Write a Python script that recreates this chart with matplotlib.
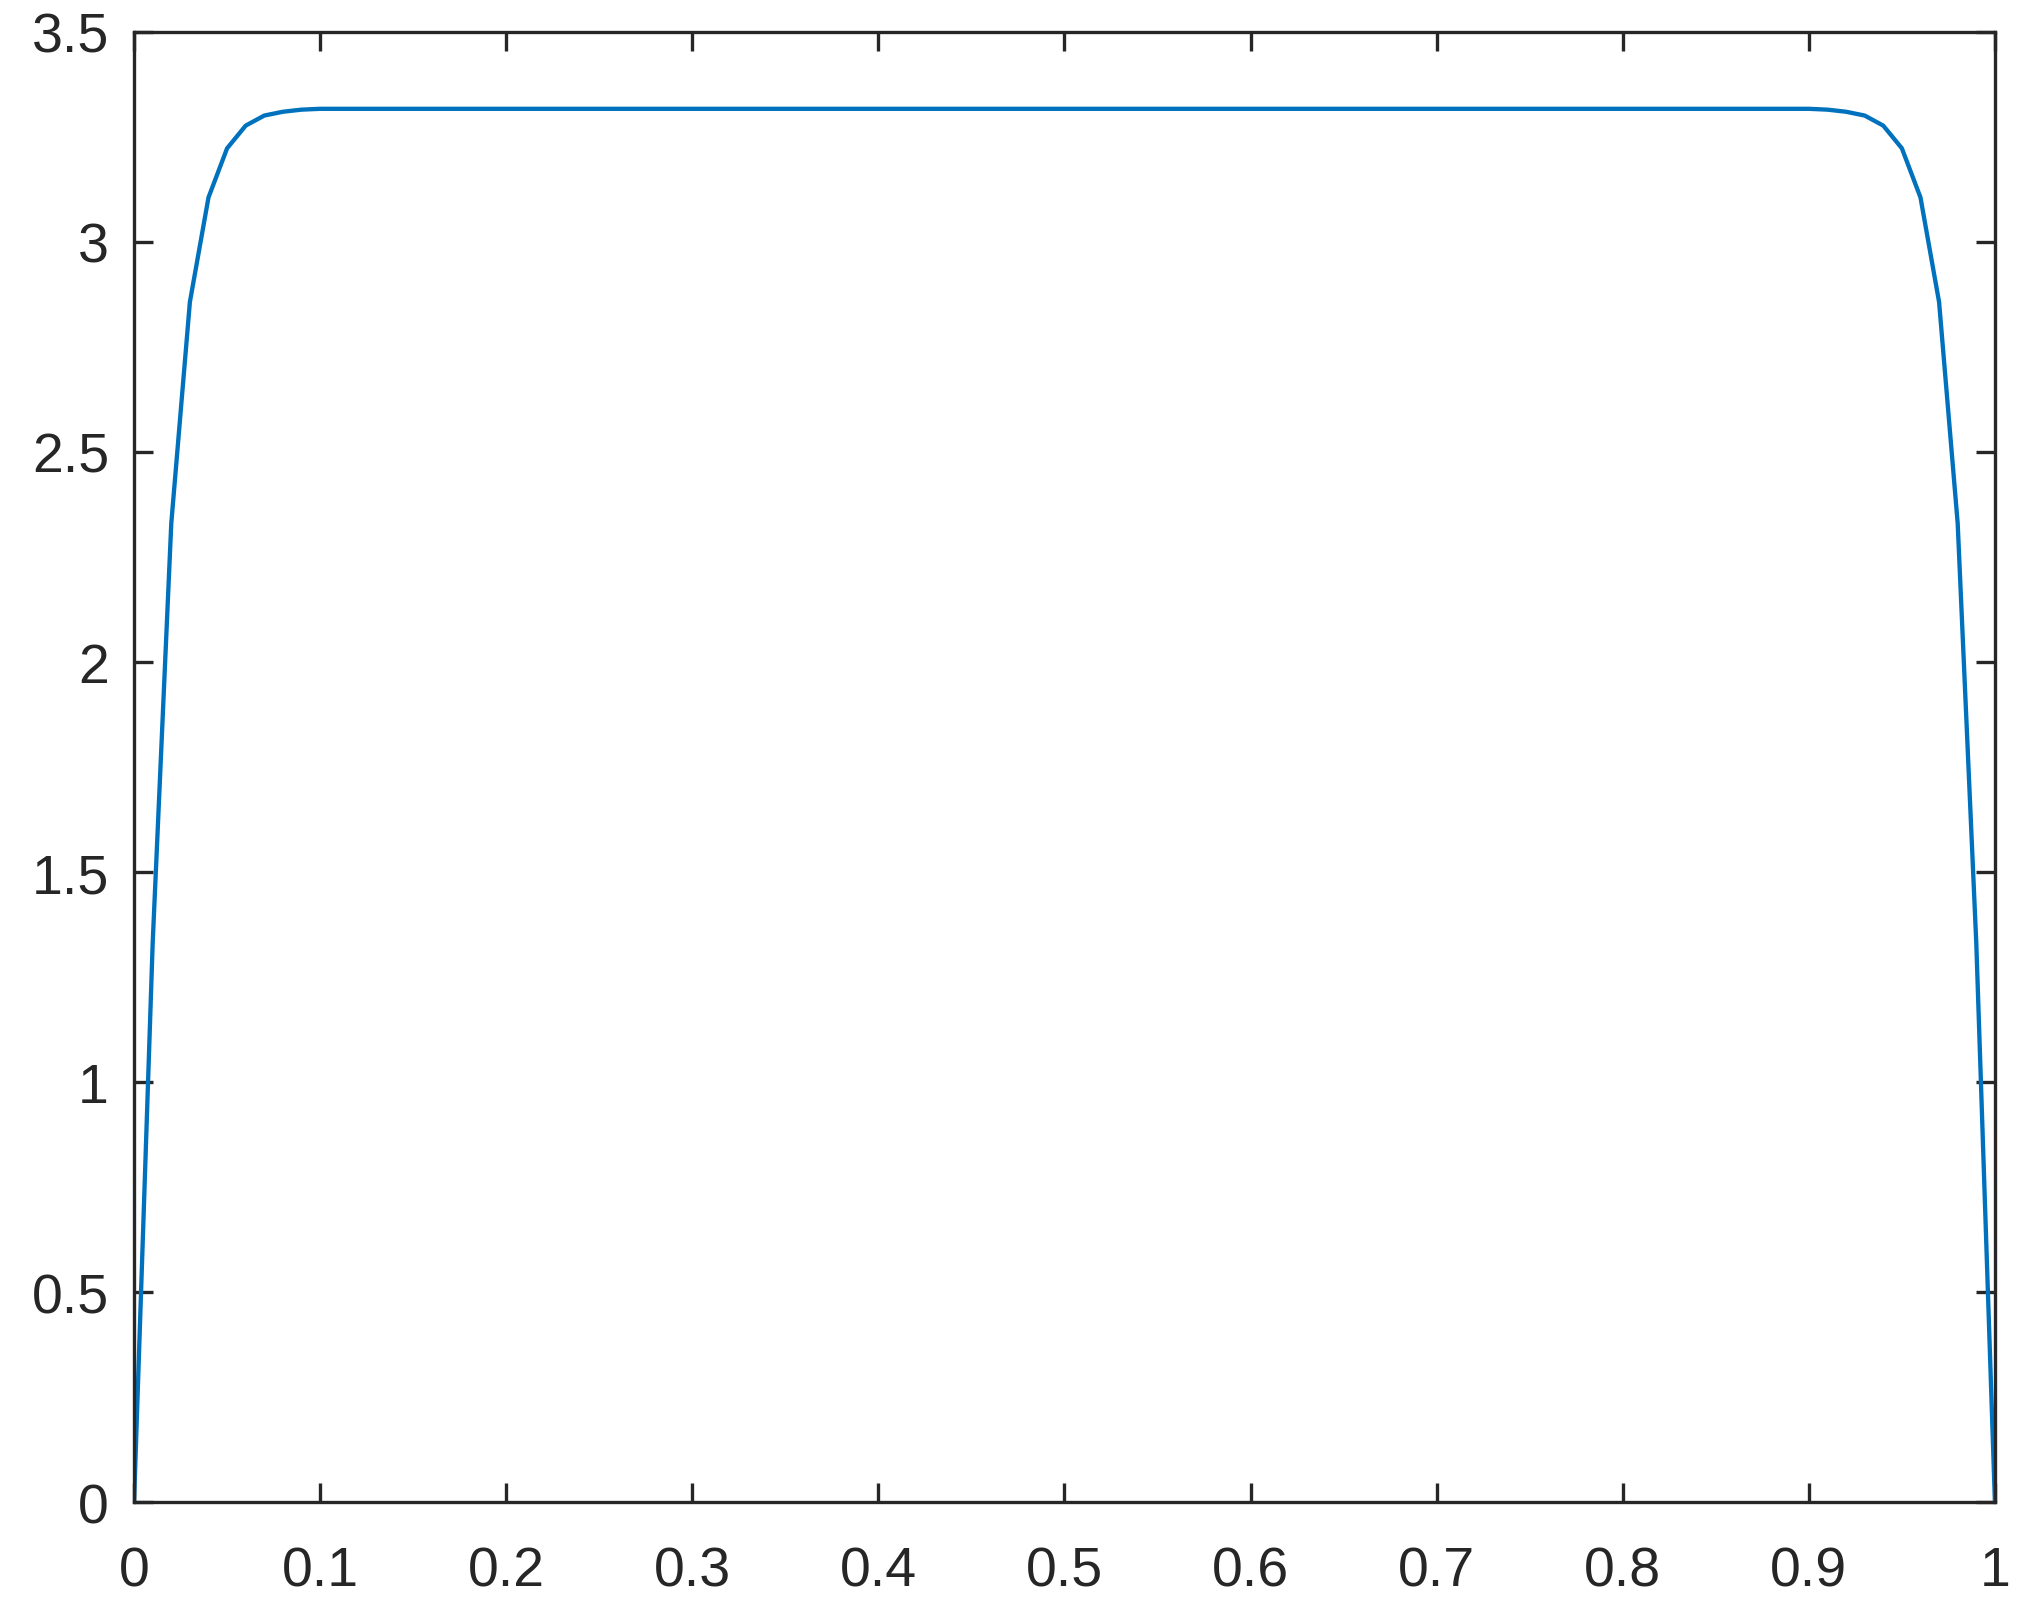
import matplotlib
matplotlib.use("Agg")
import matplotlib.pyplot as plt

# sample points (flat plateau between 0.1 and 0.9)
x_vals = [0.00, 0.01, 0.02, 0.03, 0.04, 0.05, 0.06, 0.07, 0.08, 0.09, 0.10,
          0.90, 0.91, 0.92, 0.93, 0.94, 0.95, 0.96, 0.97, 0.98, 0.99, 1.00]
y_vals = [0.0, 1.33, 2.33, 2.857, 3.106, 3.223, 3.277, 3.301, 3.310, 3.315, 3.317,
          3.317, 3.315, 3.310, 3.301, 3.277, 3.223, 3.106, 2.857, 2.33, 1.33, 0.0]

x_ticks = [0, 0.1, 0.2, 0.3, 0.4, 0.5, 0.6, 0.7, 0.8, 0.9, 1]
x_labels = ["0", "0.1", "0.2", "0.3", "0.4", "0.5", "0.6", "0.7", "0.8", "0.9", "1"]
y_ticks = [0, 0.5, 1, 1.5, 2, 2.5, 3, 3.5]
y_labels = ["0", "0.5", "1", "1.5", "2", "2.5", "3", "3.5"]

dark = "#262626"
plt.rcParams["font.family"] = ["Liberation Sans", "DejaVu Sans"]

fig = plt.figure(figsize=(20.22, 16.15), dpi=100)
ax = fig.add_axes([0.0663, 0.0693, 0.9203, 0.9103])

ax.plot(x_vals, y_vals, color="#0072BD", linewidth=3.1)

ax.set_xlim(0, 1)
ax.set_ylim(0, 3.5)
ax.set_xticks(x_ticks)
ax.set_xticklabels(x_labels)
ax.set_yticks(y_ticks)
ax.set_yticklabels(y_labels)

for s in ax.spines.values():
    s.set_color(dark)
    s.set_linewidth(2.4)
ax.tick_params(axis="both", direction="in", length=14, width=2.4, color=dark,
               labelcolor=dark, labelsize=40, top=True, right=True)
ax.tick_params(axis="x", pad=31)
ax.tick_params(axis="y", pad=18)

fig.savefig("out.png", dpi=100)
